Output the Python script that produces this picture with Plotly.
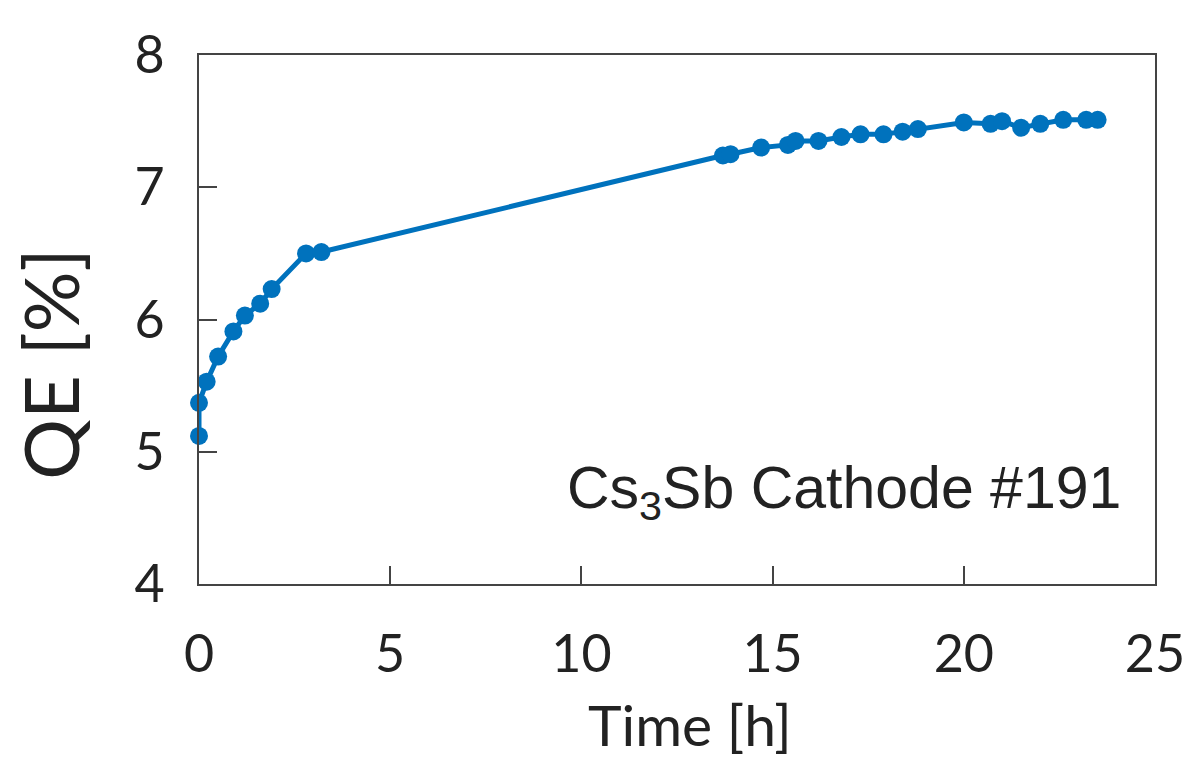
import plotly.graph_objects as go

time_h = [0.0, 0.0, 0.2, 0.5, 0.9, 1.2, 1.6, 1.9, 2.8, 3.2,
          13.7, 13.9, 14.7, 15.4, 15.6, 16.2, 16.8, 17.3, 17.9, 18.4, 18.8,
          20.0, 20.7, 21.0, 21.5, 22.0, 22.6, 23.2, 23.5]
qe_pct = [5.12, 5.37, 5.53, 5.72, 5.91, 6.03, 6.12, 6.23, 6.50, 6.51,
          7.24, 7.25, 7.30, 7.32, 7.35, 7.35, 7.38, 7.40, 7.40, 7.42, 7.44,
          7.49, 7.48, 7.50, 7.45, 7.48, 7.51, 7.51, 7.51]

x_ticks = [0, 5, 10, 15, 20, 25]
y_ticks = [4, 5, 6, 7, 8]

blue = "#0072BD"
axis_col = "#444444"
fam = "Lato, Open Sans, sans-serif"
txt_col = "#222222"
tick_font = dict(family=fam, size=52, color=txt_col)

fig = go.Figure()
fig.add_trace(go.Scatter(
    x=time_h, y=qe_pct, mode="lines+markers",
    line=dict(color=blue, width=5),
    marker=dict(color=blue, size=18),
    cliponaxis=False, showlegend=False,
))

fig.update_layout(
    width=1197, height=758,
    margin=dict(l=199, r=35, t=55, b=174),
    paper_bgcolor="white", plot_bgcolor="white",
    annotations=[
        dict(x=0.967, y=0.174, xref="paper", yref="paper",
             xanchor="right", yanchor="middle",
             text="Cs<sub>3</sub>Sb Cathode #191", showarrow=False,
             font=dict(family="Liberation Sans, Arial, sans-serif", size=59, color=txt_col)),
        dict(x=0.514, y=-0.264, xref="paper", yref="paper",
             xanchor="center", yanchor="middle",
             text="Time [h]", showarrow=False,
             font=dict(family=fam, size=57, color=txt_col)),
        dict(x=-0.156, y=0.416, xref="paper", yref="paper",
             xanchor="center", yanchor="middle", textangle=-90,
             text="QE [%]", showarrow=False,
             font=dict(family=fam, size=76, color=txt_col)),
    ],
)
fig.update_xaxes(
    range=[0, 25], tickvals=x_ticks, ticktext=[str(v) for v in x_ticks],
    showgrid=False, zeroline=False,
    showline=True, linecolor=axis_col, linewidth=2, mirror=True,
    ticks="inside", ticklen=18, tickwidth=2, tickcolor=axis_col,
    tickfont=tick_font, ticklabelstandoff=24,
)
fig.update_yaxes(
    range=[4, 8], tickvals=y_ticks, ticktext=[str(v) for v in y_ticks],
    showgrid=False, zeroline=False,
    showline=True, linecolor=axis_col, linewidth=2, mirror=True,
    ticks="inside", ticklen=18, tickwidth=2, tickcolor=axis_col,
    tickfont=tick_font, ticklabelstandoff=22,
)

fig.write_html("out.html")
